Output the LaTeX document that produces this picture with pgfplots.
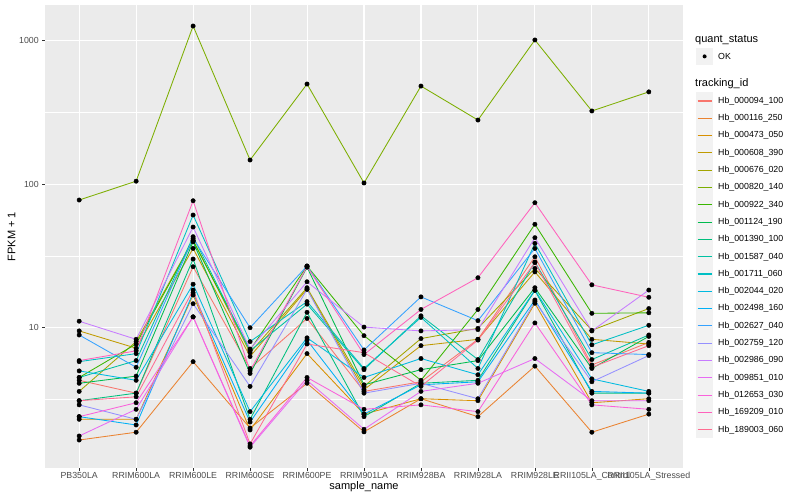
\documentclass[border=0pt]{standalone}
\usepackage{pgfplots}
\pgfplotsset{compat=1.18}
\usepackage{pgfplotstable}
\usepackage{fontspec}
\setmainfont{Liberation Sans}

% ggplot hue palette, 20 levels
\definecolor{c1}{HTML}{F8766D}
\definecolor{c2}{HTML}{EA8331}
\definecolor{c3}{HTML}{D89000}
\definecolor{c4}{HTML}{C09B00}
\definecolor{c5}{HTML}{A3A500}
\definecolor{c6}{HTML}{7CAE00}
\definecolor{c7}{HTML}{39B600}
\definecolor{c8}{HTML}{00BB4E}
\definecolor{c9}{HTML}{00BF7D}
\definecolor{c10}{HTML}{00C1A3}
\definecolor{c11}{HTML}{00BFC4}
\definecolor{c12}{HTML}{00BAE0}
\definecolor{c13}{HTML}{00B0F6}
\definecolor{c14}{HTML}{35A2FF}
\definecolor{c15}{HTML}{9590FF}
\definecolor{c16}{HTML}{C77CFF}
\definecolor{c17}{HTML}{E76BF3}
\definecolor{c18}{HTML}{FA62DB}
\definecolor{c19}{HTML}{FF62BC}
\definecolor{c20}{HTML}{FF6C91}
\definecolor{panel}{HTML}{EBEBEB}
\definecolor{keybg}{HTML}{F2F2F2}

% FPKM+1 per sample (x = sample index), one column per tracking_id
\pgfplotstableread{
x  s1   s2   s3   s4   s5   s6    s7   s8   s9   s10  s11  s12  s13  s14  s15  s16  s17  s18  s19  s20
0  4.3  1.65 2.3  9.5  3.6  77.6  4.5  4.1  3.1  4.5  5.8  5.0  2.4  8.9  2.9  11.1 1.76 2.4  5.9  3.1
1  3.5  1.87 2.3  7.2  8.0  105   7.7  4.6  3.5  5.9  6.6  4.3  2.1  5.3  2.3  8.3  2.7  3.0  6.9  3.3
2  26.6 5.8  16.9 35.7 40.8 1266  40.4 39.7 30.1 43.1 61.0 20.1 17.5 42.0 14.7 50.3 11.9 11.9 76.7 18.3
3  5.2  2.0  1.94 6.3  6.7  147.5 7.0  4.8  2.3  6.9  8.0  2.6  2.2  10.0 3.9  7.1  1.47 1.50 5.0  1.55
4  11.6 4.1  6.6  18.6 19.0 499   26.9 26.4 12.8 14.6 15.2 8.5  8.2  26.9 18.5 20.9 4.3  4.5  26.7 7.7
5  3.6  1.88 2.5  3.7  3.9  102   8.8  4.0  2.4  5.1  5.2  4.5  2.5  7.0  3.5  10.1 1.96 2.7  6.5  6.7
6  4.2  3.2  3.2  7.5  8.4  483   4.3  5.1  4.1  12.1 11.8 6.1  4.0  16.4 4.1  9.5  3.6  2.9  13.4 3.9
7  8.3  2.4  3.1  8.3  9.9  280   13.4 5.9  4.3  6.0  5.2  4.7  4.2  11.2 3.2  9.7  4.1  2.6  22.3 8.2
8  31.2 5.4  14.8 24.5 25.9 1012  52.6 19.0 18.2 28.7 38.7 18.3 15.6 35.7 15.2 42.4 6.1  10.8 74.3 28.4
9  5.5  1.87 3.0  8.3  9.6  324   12.6 5.2  3.5  6.0  7.6  4.4  3.6  6.7  4.2  9.5  3.1  2.9  19.9 5.3
10 7.9  2.5  3.2  7.7  13.6 440   12.7 8.7  3.5  8.9  10.4 3.6  3.5  6.5  6.4  18.3 3.1  2.7  16.3 7.5
}\fpkm

\begin{document}
\begin{tikzpicture}
\fill[white] (0,0) rectangle (800pt,500pt);
\useasboundingbox (0,0) rectangle (800pt,500pt);

\begin{axis}[
  at={(45pt,32pt)}, anchor=south west,
  scale only axis, width=638pt, height=463pt,
  ymode=log,
  xmin=-0.6, xmax=10.6, ymin=1.053, ymax=1774,
  axis background/.style={fill=panel},
  axis line style={draw=none},
  xtick={0,...,10},
  xticklabels={PB350LA,RRIM600LA,RRIM600LE,RRIM600SE,RRIM600PE,RRIM901LA,RRIM928BA,RRIM928LA,RRIM928LE,RRII105LA\_Control,RRII105LA\_Stressed},
  ytick={10,100,1000}, yticklabels={10,100,1000},
  minor ytick={3.1623,31.623,316.23},
  xtick pos=lower, ytick pos=left,
  tick align=outside, major tick length=2.75pt, minor tick length=0pt,
  tick style={color=black!80, line width=0.5pt},
  grid=both,
  major grid style={white, line width=1.07pt},
  minor grid style={white, line width=0.53pt},
  ticklabel style={font=\fontsize{8.8}{10}\selectfont, color=black!70},
  xticklabel style={inner sep=1pt},
  xlabel={sample\_name}, ylabel={FPKM + 1},
  label style={font=\fontsize{11}{13}\selectfont},
  xlabel style={yshift=3pt},
  ylabel style={yshift=-3pt},
  clip=false,
]
\pgfplotsinvokeforeach{1,...,20}{
  \addplot[c#1, line width=0.85pt, mark=none] table[x=x, y=s#1] {\fpkm};
}
\pgfplotsinvokeforeach{1,...,20}{
  \addplot[only marks, mark=*, mark size=2.2pt, black] table[x=x, y=s#1] {\fpkm};
}
\end{axis}

% legend
\node[anchor=west, inner sep=0pt, font=\fontsize{11}{13}\selectfont] at (695pt,460pt) {quant\_status};
\fill[keybg] (696pt,435pt) rectangle (713.3pt,452.3pt);
\fill[black] (704.6pt,443.6pt) circle (2pt);
\node[anchor=west, inner sep=0pt, font=\fontsize{8.8}{10}\selectfont] at (718pt,443.6pt) {OK};

\node[anchor=west, inner sep=0pt, font=\fontsize{11}{13}\selectfont] at (695pt,416.7pt) {tracking\_id};
\foreach \n [count=\i] in {Hb\_000094\_100,Hb\_000116\_250,Hb\_000473\_050,Hb\_000608\_390,Hb\_000676\_020,Hb\_000820\_140,Hb\_000922\_340,Hb\_001124\_190,Hb\_001390\_100,Hb\_001587\_040,Hb\_001711\_060,Hb\_002044\_020,Hb\_002498\_160,Hb\_002627\_040,Hb\_002759\_120,Hb\_002986\_090,Hb\_009851\_010,Hb\_012653\_030,Hb\_169209\_010,Hb\_189003\_060}{
  \pgfmathsetmacro{\yy}{500-101-17.3*(\i-1)}
  \fill[keybg] (696pt,\yy pt-8.65pt) rectangle (713.3pt,\yy pt+8.65pt);
  \draw[c\i, line width=1.1pt] (697.7pt,\yy pt) -- (711.6pt,\yy pt);
  \node[anchor=west, inner sep=0pt, font=\fontsize{8.8}{10}\selectfont] at (718pt,\yy pt) {\n};
}
\end{tikzpicture}
\end{document}
